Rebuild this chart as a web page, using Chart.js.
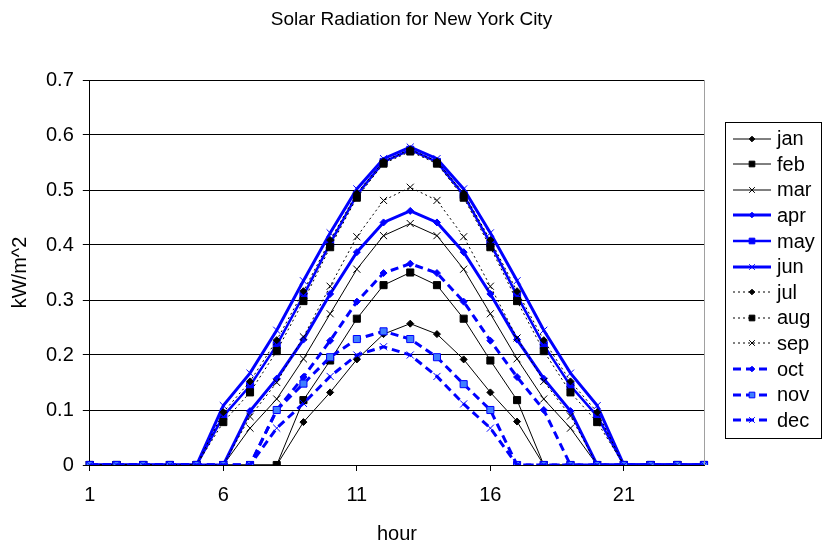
<!DOCTYPE html>
<html>
<head>
<meta charset="utf-8">
<title>Solar Radiation for New York City</title>
<script src="https://cdn.jsdelivr.net/npm/chart.js@4.4.1/dist/chart.umd.min.js"></script>
<style>
  html, body { margin: 0; background: #fff; }
  canvas { display: block; }
</style>
</head>
<body>
<canvas id="chart" width="823" height="546"></canvas>
<script>
// hourly solar radiation, kW/m^2, one array per month (hours 1..24)
const hours = ['1','2','3','4','5','6','7','8','9','10','11','12','13','14','15','16','17','18','19','20','21','22','23','24'];

const jan = [0,0,0,0,0,0,0,0,0.078,0.132,0.192,0.238,0.257,0.238,0.192,0.132,0.079,0,0,0,0,0,0,0];
const feb = [0,0,0,0,0,0,0,0,0.118,0.190,0.266,0.327,0.350,0.327,0.266,0.190,0.118,0,0,0,0,0,0,0];
const mar = [0,0,0,0,0,0,0.067,0.120,0.193,0.275,0.356,0.417,0.439,0.417,0.356,0.275,0.193,0.120,0.067,0,0,0,0,0];
const apr = [0,0,0,0,0,0,0.098,0.157,0.228,0.311,0.387,0.441,0.462,0.441,0.387,0.311,0.228,0.157,0.098,0,0,0,0,0];
const may = [0,0,0,0,0,0.089,0.144,0.218,0.308,0.403,0.491,0.551,0.573,0.551,0.491,0.403,0.308,0.218,0.144,0.089,0,0,0,0];
const jun = [0,0,0,0,0,0.108,0.167,0.245,0.335,0.422,0.502,0.557,0.578,0.557,0.502,0.422,0.335,0.245,0.167,0.108,0,0,0,0];
const jul = [0,0,0,0,0,0.096,0.152,0.227,0.316,0.409,0.494,0.552,0.574,0.552,0.494,0.409,0.316,0.227,0.152,0.096,0,0,0,0];
const aug = [0,0,0,0,0,0.078,0.132,0.207,0.298,0.396,0.486,0.548,0.570,0.548,0.486,0.396,0.298,0.207,0.132,0.078,0,0,0,0];
const sep = [0,0,0,0,0,0,0.088,0.150,0.233,0.325,0.415,0.481,0.505,0.481,0.415,0.325,0.231,0.152,0.089,0,0,0,0,0];
const oct = [0,0,0,0,0,0,0,0.100,0.160,0.226,0.297,0.349,0.366,0.349,0.297,0.226,0.160,0.100,0,0,0,0,0,0];
const nov = [0,0,0,0,0,0,0,0.100,0.148,0.196,0.229,0.243,0.229,0.196,0.147,0.100,0,0,0,0,0,0,0,0];
const dec = [0,0,0,0,0,0,0,0.067,0.112,0.161,0.200,0.215,0.200,0.161,0.111,0.067,0,0,0,0,0,0,0,0];

const yTicks = [0, 0.1, 0.2, 0.3, 0.4, 0.5, 0.6, 0.7];

const TITLE = 'Solar Radiation for New York City';
const FONT = 'Liberation Sans, Arial, sans-serif';
const BLUE = '#0000ff';
const BLACK = '#000000';

// line look per month: [label, data, color, width, dash, marker, radius, marker fill]
const series = [
  ['jan', jan, BLACK, 1, [], 'rectRot', 3.5, BLACK],
  ['feb', feb, BLACK, 1, [], 'rect', 5, BLACK],
  ['mar', mar, BLACK, 1, [], 'crossRot', 5, BLACK],
  ['apr', apr, BLUE, 3, [], 'rectRot', 3.5, BLUE],
  ['may', may, BLUE, 2.5, [], 'rect', 5, BLUE],
  ['jun', jun, BLUE, 3, [], 'crossRot', 5, BLUE],
  ['jul', jul, BLACK, 1, [2, 3], 'rectRot', 3.5, BLACK],
  ['aug', aug, BLACK, 1, [2, 3], 'rect', 5, BLACK],
  ['sep', sep, BLACK, 1, [2, 3], 'crossRot', 5, BLACK],
  ['oct', oct, BLUE, 3, [8, 5], 'rectRot', 3.5, BLUE],
  ['nov', nov, BLUE, 3, [8, 5], 'rect', 5, '#3f7fff'],
  ['dec', dec, BLUE, 3, [8, 5], 'crossRot', 5, BLUE],
];

// later months drawn on top, like the spreadsheet did
const datasets = series.map(([label, data, color, width, dash, marker, r, fill], i) => ({
  label, data,
  borderColor: color, borderWidth: width, borderDash: dash,
  pointStyle: marker, pointRadius: r, pointHoverRadius: r,
  pointBackgroundColor: fill, pointBorderColor: color, pointBorderWidth: 1,
  fill: false, tension: 0, order: series.length - i,
}));

// little line+marker sample for each legend row
function legendIcon(ds) {
  const c = document.createElement('canvas');
  c.width = 38; c.height = 14;
  const g = c.getContext('2d');
  g.strokeStyle = ds.borderColor;
  g.lineWidth = ds.borderWidth;
  g.setLineDash(ds.borderDash);
  g.beginPath(); g.moveTo(0, 7); g.lineTo(38, 7); g.stroke();
  g.setLineDash([]);
  g.fillStyle = ds.pointBackgroundColor;
  g.strokeStyle = ds.pointBorderColor;
  g.lineWidth = 1;
  Chart.helpers.drawPoint(g, { pointStyle: ds.pointStyle, radius: ds.pointRadius * 0.8, rotation: 0, borderWidth: 1 }, 19, 7);
  return c;
}

// title centred on the whole canvas, boxed legend right of the plot
const sideLegend = {
  id: 'sideLegend',
  afterDraw(chart) {
    const a = chart.chartArea;
    const ctx = chart.ctx;
    ctx.save();
    ctx.fillStyle = BLACK;
    ctx.textAlign = 'center';
    ctx.textBaseline = 'middle';
    ctx.font = '19px ' + FONT;
    ctx.fillText(TITLE, chart.width / 2, 20);

    const rowH = 25.6;
    const left = Math.round(a.right) + 21;
    const top = Math.round(a.top) + 42;
    const width = 96;
    const height = Math.round(rowH * chart.data.datasets.length + 9);
    ctx.strokeStyle = BLACK;
    ctx.lineWidth = 1;
    ctx.strokeRect(left + 0.5, top + 0.5, width, height);
    ctx.font = '20px ' + FONT;
    ctx.textAlign = 'left';
    chart.data.datasets.forEach((ds, i) => {
      const y = top + 16.6 + i * rowH;
      ctx.drawImage(legendIcon(ds), left + 8, Math.round(y - 7));
      ctx.fillText(ds.label, left + 52, y + 1);
    });
    // grey right edge of the plot area
    ctx.strokeStyle = '#a0a0a0';
    ctx.beginPath();
    ctx.moveTo(Math.round(a.right) + 0.5, a.top);
    ctx.lineTo(Math.round(a.right) + 0.5, a.bottom);
    ctx.stroke();
    ctx.restore();
  }
};

const whiteBg = {
  id: 'whiteBg',
  beforeDraw(chart) {
    const ctx = chart.ctx;
    ctx.save();
    ctx.fillStyle = '#fff';
    ctx.fillRect(0, 0, chart.width, chart.height);
    ctx.restore();
  }
};

new Chart(document.getElementById('chart'), {
  type: 'line',
  data: { labels: hours, datasets },
  plugins: [whiteBg, sideLegend],
  options: {
    responsive: false,
    animation: false,
    devicePixelRatio: 1,
    layout: { padding: { top: 80, left: 8, right: 119, bottom: 0 } },
    plugins: {
      tooltip: { enabled: false },
      legend: { display: false },
      title: { display: false },
    },
    scales: {
      x: {
        type: 'category',
        offset: false,
        title: { display: true, text: 'hour', color: BLACK, font: { family: FONT, size: 20 }, padding: { top: 3, bottom: 0 } },
        border: { color: BLACK, width: 1 },
        grid: {
          drawOnChartArea: false,
          tickLength: 6,
          tickColor: ctx => (ctx.index % 5 === 0 ? BLACK : 'rgba(0,0,0,0)'),
        },
        ticks: {
          autoSkip: false,
          maxRotation: 0,
          color: BLACK,
          font: { family: FONT, size: 20 },
          padding: 12,
          callback: (v, i) => (i % 5 === 0 ? hours[i] : ''),
        },
      },
      y: {
        min: 0,
        max: 0.7,
        title: { display: true, text: 'kW/m^2', color: BLACK, font: { family: FONT, size: 20 }, padding: { top: 0, bottom: 5 } },
        border: { color: BLACK, width: 1 },
        grid: { color: BLACK, tickColor: BLACK, tickLength: 7 },
        afterBuildTicks: axis => { axis.ticks = yTicks.map(value => ({ value })); },
        ticks: {
          color: BLACK,
          font: { family: FONT, size: 20 },
          padding: 9,
          callback: v => String(v),
        },
      },
    },
  },
});
</script>
</body>
</html>
